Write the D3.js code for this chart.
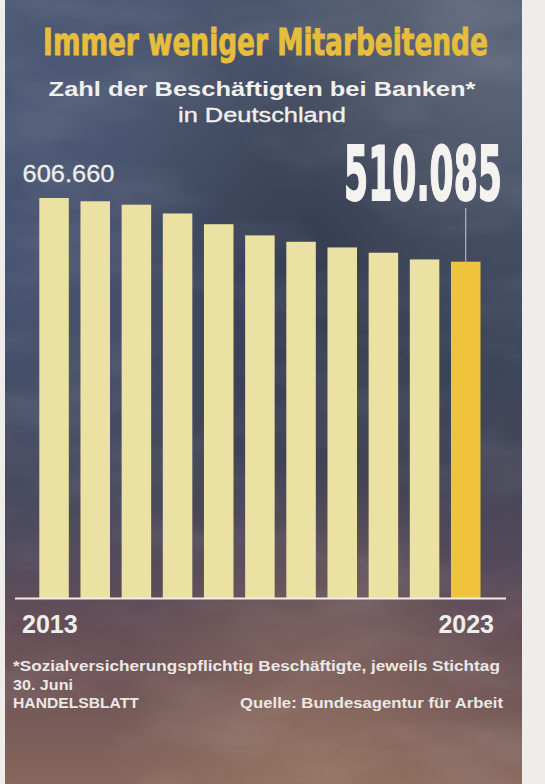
<!DOCTYPE html>
<html>
<head>
<meta charset="utf-8">
<script src="https://cdn.jsdelivr.net/npm/d3@7"></script>
<style>
  html, body { margin: 0; padding: 0; background: #eeede9; }
  svg { display: block; }
</style>
</head>
<body>
<div id="chart"></div>
<script>
// Bank employees in Germany (social-insurance contributors, reference date 30 June)
const years = ["2013", "2014", "2015", "2016", "2017", "2018", "2019", "2020", "2021", "2022", "2023"];
const employees = [606660, 601700, 596500, 583200, 566900, 550000, 540300, 531700, 523700, 513500, 510085];
const axisLabels = ["2013", "2023"];

const title = "Immer weniger Mitarbeitende";
const subtitle = ["Zahl der Beschäftigten bei Banken*", "in Deutschland"];
const footnote = ["*Sozialversicherungspflichtig Beschäftigte, jeweils Stichtag", "30. Juni"];
const brand = "HANDELSBLATT";
const source = "Quelle: Bundesagentur für Arbeit";

const W = 545, H = 784;
const fmt = d3.formatLocale({ decimal: ",", thousands: ".", grouping: [3], currency: ["", " €"] }).format(",d");

const svg = d3.select("#chart").append("svg")
  .attr("width", W).attr("height", H)
  .attr("viewBox", `0 0 ${W} ${H}`);

const defs = svg.append("defs");

// stormy sky: slate blue at the top, dusky mauve and brown towards the bottom
const sky = defs.append("linearGradient").attr("id", "sky")
  .attr("x1", 0).attr("y1", 0).attr("x2", 0).attr("y2", 1);
[
  [0.00, "#4c5871"], [0.14, "#4a556d"], [0.30, "#404a60"], [0.48, "#3e4659"],
  [0.62, "#464657"], [0.72, "#544a59"], [0.79, "#634e57"], [0.87, "#6e5457"],
  [0.94, "#7b5e59"], [1.00, "#86675c"]
].forEach(([o, c]) => sky.append("stop").attr("offset", o).attr("stop-color", c));

function radial(id, cx, cy, r, color, op) {
  const g = defs.append("radialGradient").attr("id", id)
    .attr("cx", cx).attr("cy", cy).attr("r", r);
  g.append("stop").attr("offset", 0).attr("stop-color", color).attr("stop-opacity", op);
  g.append("stop").attr("offset", 1).attr("stop-color", color).attr("stop-opacity", 0);
}
radial("glowTop", 0.85, 0.05, 0.35, "#7a7d8a", 0.5);
radial("glowLeft", 0.05, 0.35, 0.45, "#53628a", 0.45);
radial("darkMid", 0.62, 0.3, 0.4, "#2b303d", 0.45);
radial("glowBottom", 0.6, 1.0, 0.4, "#a27f68", 0.55);

// soft cloud texture
const clouds = defs.append("filter").attr("id", "clouds")
  .attr("x", 0).attr("y", 0).attr("width", 1).attr("height", 1);
clouds.append("feTurbulence").attr("type", "fractalNoise")
  .attr("baseFrequency", "0.007 0.018").attr("numOctaves", 4).attr("seed", 7);
clouds.append("feColorMatrix").attr("type", "matrix")
  .attr("values", "0 0 0 0 1  0 0 0 0 1  0 0 0 0 1  1.6 0 0 0 -0.7");

const skyX0 = 5, skyX1 = 522;
const layer = fill => svg.append("rect")
  .attr("x", skyX0).attr("y", 0).attr("width", skyX1 - skyX0).attr("height", H).attr("fill", fill);
layer("url(#sky)");
layer("url(#glowLeft)");
layer("url(#glowTop)");
layer("url(#darkMid)");
layer("url(#glowBottom)");
layer("#fff").attr("filter", "url(#clouds)").attr("opacity", 0.12);

// set a text to a given width by scaling it horizontally (condensed / wide newspaper type)
function fitWidth(sel, width, x0, y0, anchor) {
  sel.attr("x", 0).attr("y", 0).attr("text-anchor", anchor);
  const natural = sel.node().getComputedTextLength();
  const s = width / natural;
  sel.attr("transform", `translate(${x0},${y0}) scale(${s},1)`);
  return sel;
}

// headline
fitWidth(svg.append("text")
  .attr("font-family", "'Liberation Sans Narrow', 'DejaVu Sans Condensed', Roboto, sans-serif")
  .attr("font-weight", 700).attr("font-size", 38)
  .attr("fill", "#e6bd3c").attr("stroke", "#e6bd3c").attr("stroke-width", 0.9)
  .text(title), 445, 265.5, 55, "middle");

fitWidth(svg.append("text")
  .attr("font-family", "'Liberation Sans', Arial, sans-serif")
  .attr("font-weight", 700).attr("font-size", 20.5)
  .attr("fill", "#f1f0ec")
  .text(subtitle[0]), 427, 262, 95.5, "middle");

fitWidth(svg.append("text")
  .attr("font-family", "'Liberation Sans', Arial, sans-serif")
  .attr("font-size", 20.5)
  .attr("fill", "#f1f0ec").attr("stroke", "#f1f0ec").attr("stroke-width", 0.35)
  .text(subtitle[1]), 168, 262, 122, "middle");

// chart
const baseY = 598;
const x = d3.scaleBand().domain(years).range([39.3, 480.5]).paddingInner(0.283).paddingOuter(0);
const y = d3.scaleLinear().domain([0, d3.max(employees)]).range([baseY, 198]);
const data = years.map((yr, i) => ({ year: yr, value: employees[i] }));
const last = data[data.length - 1];

svg.append("g").selectAll("rect").data(data).join("rect")
  .attr("x", d => x(d.year))
  .attr("y", d => y(d.value))
  .attr("width", x.bandwidth())
  .attr("height", d => baseY - y(d.value))
  .attr("fill", d => d === last ? "#efc43c" : "#ebe1a2");

// baseline
svg.append("line")
  .attr("x1", 15).attr("x2", 506)
  .attr("y1", baseY + 0.5).attr("y2", baseY + 0.5)
  .attr("stroke", "#eeeeea").attr("stroke-width", 2.2);

// first value label
fitWidth(svg.append("text")
  .attr("font-family", "'Liberation Sans', Arial, sans-serif")
  .attr("font-size", 24.5)
  .attr("fill", "#eeeeec")
  .attr("stroke", "#eeeeec").attr("stroke-width", 0.3)
  .text(fmt(data[0].value)), 92, 22.5, 181.5, "start");

// last value callout with leader line
const lastCx = x(last.year) + x.bandwidth() / 2;
svg.append("line")
  .attr("x1", lastCx).attr("x2", lastCx)
  .attr("y1", 208).attr("y2", y(last.value))
  .attr("stroke", "#c9c9cc").attr("stroke-width", 1);

fitWidth(svg.append("text")
  .attr("font-family", "'Liberation Sans Narrow', 'DejaVu Sans Condensed', Roboto, sans-serif")
  .attr("font-weight", 700).attr("font-size", 74)
  .attr("fill", "#f4f3f0").attr("stroke", "#f4f3f0").attr("stroke-width", 1.8)
  .text(fmt(last.value)), 158, 502, 200, "end");

// x axis: only first and last year
const xAxis = d3.axisBottom(x).tickValues(axisLabels).tickSize(0).tickPadding(0);
const gx = svg.append("g").attr("transform", `translate(0,${baseY})`).call(xAxis);
gx.select(".domain").remove();
gx.selectAll(".tick text")
  .attr("y", 35).attr("dy", 0)
  .attr("font-family", "'Liberation Sans', Arial, sans-serif")
  .attr("font-weight", 700).attr("font-size", 25)
  .attr("fill", "#eeeeec")
  .attr("text-anchor", (d, i) => i === 0 ? "start" : "end")
  .attr("x", (d, i) => i === 0 ? 22 - x(d) - x.bandwidth() / 2 : 494 - x(d) - x.bandwidth() / 2);

// footnote and credits
const noteStyle = sel => sel
  .attr("font-family", "'Liberation Sans', Arial, sans-serif")
  .attr("font-weight", 700).attr("font-size", 15.5)
  .attr("fill", "#ebe8e6");

fitWidth(noteStyle(svg.append("text")).text(footnote[0]), 487, 13, 671, "start");
fitWidth(noteStyle(svg.append("text")).text(footnote[1]), 60, 13, 690, "start");
fitWidth(noteStyle(svg.append("text")).text(brand), 126, 13, 708, "start");
fitWidth(noteStyle(svg.append("text")).text(source), 263, 503, 708, "end");
</script>
</body>
</html>
